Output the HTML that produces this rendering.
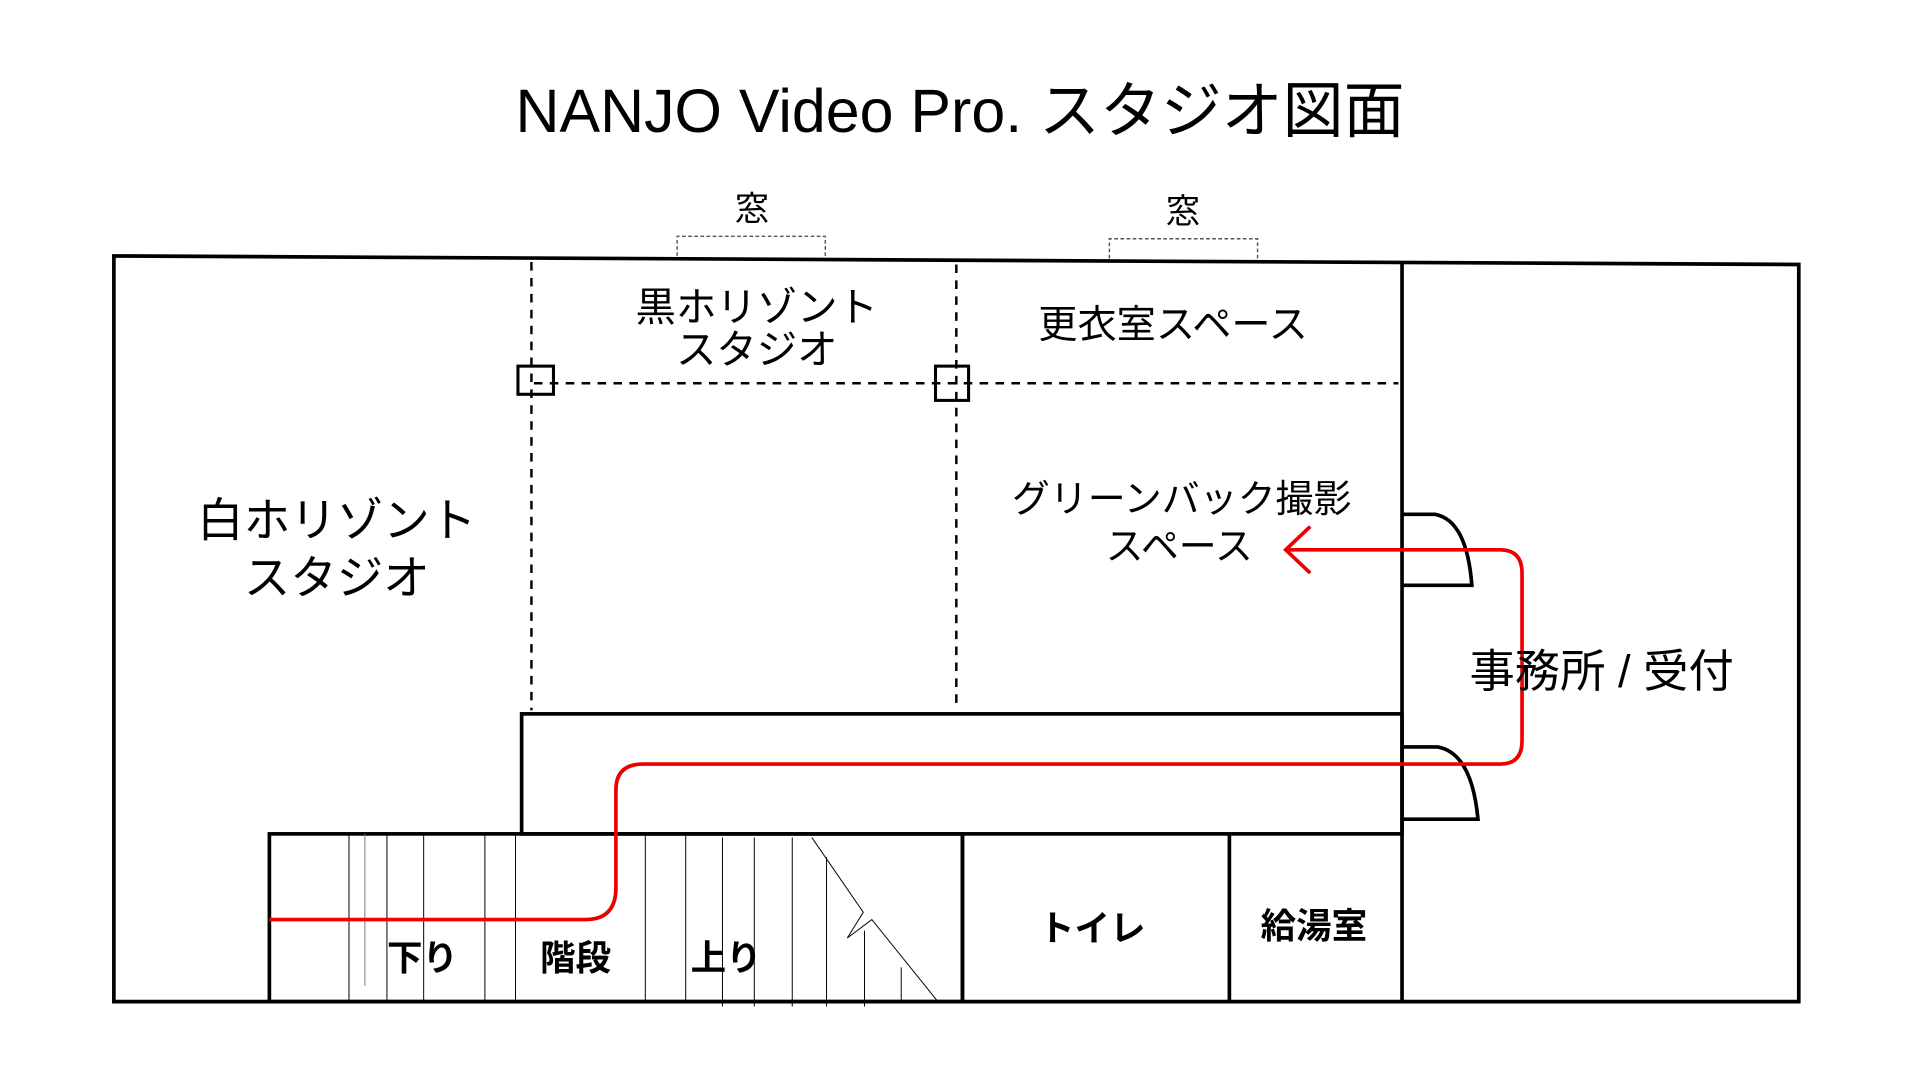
<!DOCTYPE html>
<html><head><meta charset="utf-8"><style>
html,body{margin:0;padding:0;background:#fff;width:1920px;height:1080px;overflow:hidden}
svg{display:block}
text{font-family:"Liberation Sans","Noto Sans CJK JP",sans-serif;fill:#000}
</style></head><body>
<svg width="1920" height="1080" viewBox="0 0 1568 882" xmlns="http://www.w3.org/2000/svg">
<text x="784" y="108" font-size="50" text-anchor="middle" textLength="726" lengthAdjust="spacingAndGlyphs">NANJO Video Pro. スタジオ図面</text>
<text x="614" y="180" font-size="28" text-anchor="middle">窓</text>
<text x="966" y="182" font-size="28" text-anchor="middle">窓</text>
<path d="M553 209 V193 H674 V209" fill="none" stroke="#555" stroke-width="1.2" stroke-dasharray="3,2"/>
<path d="M906 211 V195 H1027 V211" fill="none" stroke="#555" stroke-width="1.2" stroke-dasharray="3,2"/>
<g fill="none" stroke="#000" stroke-width="3">
<path d="M93 209 L1469 216 V818 H93 Z"/>
<line x1="1145" y1="215" x2="1145" y2="818"/>
<rect x="426" y="583" width="719" height="98"/>
<rect x="220" y="681" width="566" height="137"/>
<line x1="786" y1="681" x2="786" y2="818"/>
<line x1="1004" y1="681" x2="1004" y2="818"/>
<path d="M1145 420 H1172 Q1198 425 1202 478 H1145"/>
<path d="M1145 610 H1174 Q1202 615 1207 669 H1145"/>
</g>
<g stroke="#000" stroke-width="2" stroke-dasharray="7,6" fill="none">
<line x1="434" y1="214" x2="434" y2="580"/>
<line x1="781" y1="216" x2="781" y2="578"/>
<line x1="436" y1="313" x2="1142" y2="313"/>
</g>
<rect x="423" y="299" width="29" height="23" fill="none" stroke="#000" stroke-width="2.5"/>
<rect x="764" y="299" width="27" height="28" fill="none" stroke="#000" stroke-width="2.5"/>
<g stroke="#000" stroke-width="0.8">
<line x1="285" y1="681" x2="285" y2="818"/><line x1="298" y1="681" x2="298" y2="805" stroke="#777"/>
<line x1="316" y1="681" x2="316" y2="818"/><line x1="346" y1="681" x2="346" y2="818"/>
<line x1="396" y1="681" x2="396" y2="818"/><line x1="421" y1="681" x2="421" y2="818"/>
<line x1="527" y1="681" x2="527" y2="818"/><line x1="560" y1="681" x2="560" y2="818"/>
<line x1="590" y1="684" x2="590" y2="822"/><line x1="616" y1="684" x2="616" y2="822"/>
<line x1="647" y1="684" x2="647" y2="822"/><line x1="675" y1="700" x2="675" y2="822"/>
<line x1="706" y1="760" x2="706" y2="822"/><line x1="736" y1="790" x2="736" y2="818"/>
<polyline points="663,684 705,745 692,766 712,751 766,818" fill="none"/>
</g>
<path d="M220 751 H478 Q503 751 503 725 V645 Q503 624 525 624 H1225 Q1243 624 1243 605 V468 Q1243 449 1225 449 H1050 M1070 430 L1050 449 L1070 468" fill="none" stroke="#e00" stroke-width="3"/>
<text x="275" y="438" font-size="38" text-anchor="middle">白ホリゾント</text>
<text x="275" y="485" font-size="38" text-anchor="middle">スタジオ</text>
<text x="618" y="262" font-size="33" text-anchor="middle">黒ホリゾント</text>
<text x="618" y="297" font-size="33" text-anchor="middle">スタジオ</text>
<text x="958" y="276" font-size="32" text-anchor="middle">更衣室スペース</text>
<text x="965" y="418" font-size="31" text-anchor="middle">グリーンバック撮影</text>
<text x="963" y="457" font-size="31" text-anchor="middle">スペース</text>
<text x="1308" y="561" font-size="37" text-anchor="middle">事務所 / 受付</text>
<g font-weight="bold" font-size="29" text-anchor="middle">
<text x="345" y="792">下り</text>
<text x="470" y="792">階段</text>
<text x="593" y="792">上り</text>
<text x="892" y="768">トイレ</text>
<text x="1073" y="766">給湯室</text>
</g>
</svg>
</body></html>
